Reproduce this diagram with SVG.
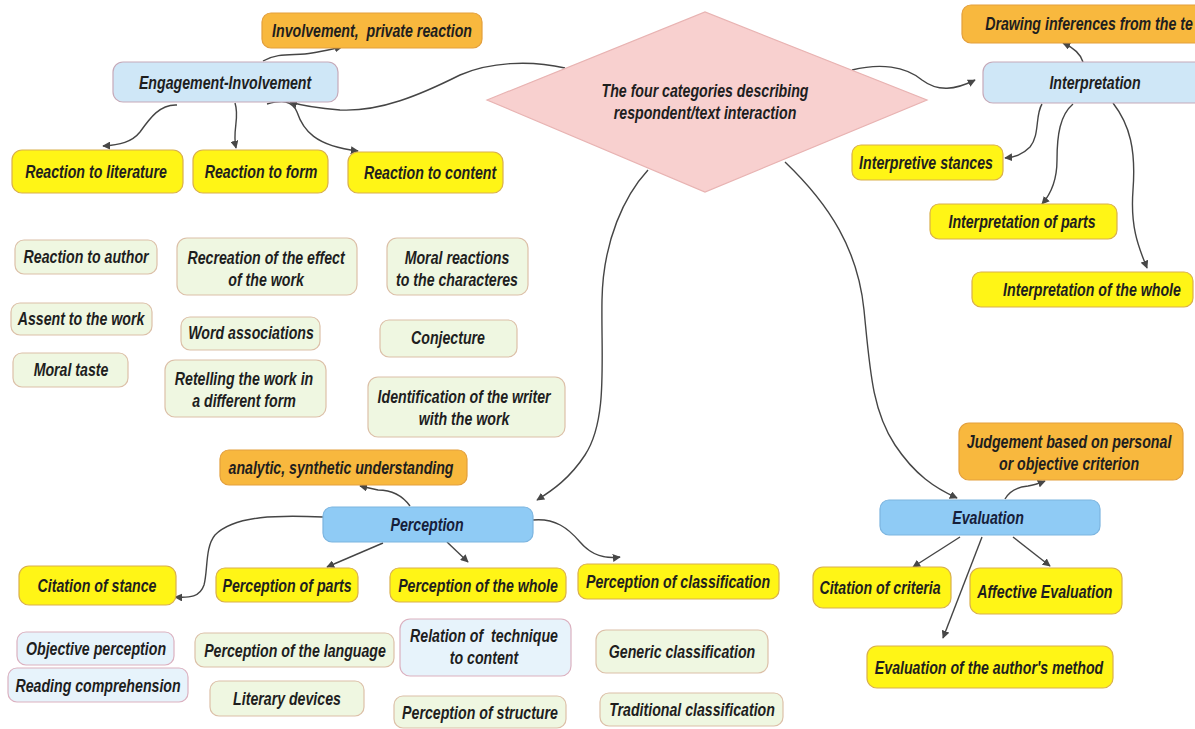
<svg xmlns="http://www.w3.org/2000/svg" width="1195" height="729" viewBox="0 0 1195 729">
  <defs>
    <marker id="arrow" viewBox="0 0 10 10" refX="9" refY="5" markerWidth="8" markerHeight="8" markerUnits="userSpaceOnUse" orient="auto">
      <path d="M0,0 L10,5 L0,10 z" fill="#474747"/>
    </marker>
    <style>
      .t { font-family: "Liberation Sans", Arial, sans-serif; font-weight: bold; font-style: italic; font-size: 17.5px; fill: #1e1e1e; text-anchor: middle; white-space: pre; transform-box: fill-box; transform-origin: center; transform: scaleX(0.81); }
      .tb { fill: #16203a; }
      .yellow { fill: #fff516; stroke: #d9b04c; stroke-width: 1.2; }
      .orange { fill: #f8b83e; stroke: #e39f3c; stroke-width: 1.2; }
      .sky { fill: #cfe7f7; stroke: #c6aab9; stroke-width: 1.2; }
      .blue { fill: #8fcbf5; stroke: #7cb5e0; stroke-width: 1.2; }
      .green { fill: #eff7e1; stroke: #dcc0a8; stroke-width: 1.2; }
      .pale { fill: #e7f3fb; stroke: #dbb1c0; stroke-width: 1.2; }
      .diamond { fill: #f8d0cf; stroke: #e8b3b2; stroke-width: 1.2; }
      .link { fill: none; stroke: #454545; stroke-width: 1.4; marker-end: url(#arrow); }
    </style>
  </defs>

  <rect width="1195" height="729" fill="#ffffff"/>

  <!-- connectors -->
  <g id="connectors">
    <path class="link" d="M263,61 C278,52 296,56 312,53 C325,51 332,49 342,47"/>
    <path class="link" d="M565,68 C530,60 490,62 460,75 C420,95 380,112 340,110 C315,108 300,105 290,102"/>
    <path class="link" d="M267,104 C282,100 292,100 297,112 C303,130 315,146 358,151"/>
    <path class="link" d="M177,105 C160,104 150,118 140,132 C132,142 120,145 103,146"/>
    <path class="link" d="M235,103 C240,118 232,130 236,148"/>
    <path class="link" d="M852,70 C880,63 905,66 922,80 C938,92 955,90 975,80"/>
    <path class="link" d="M1083,62 C1080,52 1072,47 1063,43"/>
    <path class="link" d="M1042,104 C1035,115 1040,135 1030,147 C1022,155 1015,157 1005,158"/>
    <path class="link" d="M1073,104 C1060,115 1057,135 1057,160 C1057,180 1050,195 1042,204"/>
    <path class="link" d="M1113,103 C1130,125 1136,150 1133,190 C1130,230 1140,250 1147,268"/>
    <path class="link" d="M648,170 C625,195 603,240 602,300 C601,360 608,420 585,455 C570,478 553,490 537,500"/>
    <path class="link" d="M785,162 C830,205 858,250 864,310 C870,370 872,410 895,445 C915,475 935,488 957,498"/>
    <path class="link" d="M1005,499 C1010,490 1018,487 1028,486 C1035,485 1040,483 1045,481"/>
    <path class="link" d="M960,537 L913,567"/>
    <path class="link" d="M1013,537 L1050,566"/>
    <path class="link" d="M982,537 L943,638"/>
    <path class="link" d="M410,506 C402,495 390,490 378,490 L360,486"/>
    <path class="link" d="M323,517 C280,515 235,515 215,535 C205,547 208,570 204,585 C200,597 190,598 175,597"/>
    <path class="link" d="M383,543 L327,567"/>
    <path class="link" d="M447,542 L468,562"/>
    <path class="link" d="M533,520 C555,518 568,528 580,542 C592,556 605,559 620,557"/>
  </g>

  <!-- central topic -->
  <g id="topic">
    <polygon class="diamond" points="487,100 705,12 927,100 705,192"/>
    <text class="t" x="705" y="97">The four categories describing<tspan x="705" dy="22">respondent/text interaction</tspan></text>
  </g>

  <!-- engagement / involvement branch -->
  <g id="involvement-private">
    <rect class="orange" x="262" y="13" width="220" height="35" rx="9"/>
    <text class="t" x="372" y="37" xml:space="preserve">Involvement,  private reaction</text>
  </g>
  <g id="engagement">
    <rect class="sky" x="113" y="62" width="225" height="40" rx="10"/>
    <text class="t" x="225" y="89">Engagement-Involvement</text>
  </g>
  <g id="reaction-literature">
    <rect class="yellow" x="12" y="150" width="171" height="43" rx="10"/>
    <text class="t" x="96" y="178">Reaction to literature</text>
  </g>
  <g id="reaction-form">
    <rect class="yellow" x="193" y="150" width="135" height="43" rx="10"/>
    <text class="t" x="261" y="178">Reaction to form</text>
  </g>
  <g id="reaction-content">
    <rect class="yellow" x="348" y="152" width="155" height="41" rx="10"/>
    <text class="t" x="430" y="179">Reaction to content</text>
  </g>
  <g id="reaction-author">
    <rect class="green" x="15" y="240" width="142" height="34" rx="9"/>
    <text class="t" x="86" y="263">Reaction to author</text>
  </g>
  <g id="recreation">
    <rect class="green" x="177" y="238" width="180" height="57" rx="10"/>
    <text class="t" x="266" y="264">Recreation of the effect<tspan x="266" dy="22">of the work</tspan></text>
  </g>
  <g id="moral-reactions">
    <rect class="green" x="387" y="238" width="141" height="57" rx="10"/>
    <text class="t" x="457" y="264">Moral reactions<tspan x="457" dy="22">to the characteres</tspan></text>
  </g>
  <g id="assent">
    <rect class="green" x="11" y="303" width="141" height="32" rx="9"/>
    <text class="t" x="81" y="325">Assent to the work</text>
  </g>
  <g id="word-associations">
    <rect class="green" x="181" y="317" width="139" height="33" rx="9"/>
    <text class="t" x="251" y="339">Word associations</text>
  </g>
  <g id="conjecture">
    <rect class="green" x="380" y="320" width="137" height="37" rx="9"/>
    <text class="t" x="448" y="344">Conjecture</text>
  </g>
  <g id="moral-taste">
    <rect class="green" x="13" y="353" width="115" height="34" rx="9"/>
    <text class="t" x="71" y="376">Moral taste</text>
  </g>
  <g id="retelling">
    <rect class="green" x="165" y="360" width="161" height="57" rx="10"/>
    <text class="t" x="244" y="385">Retelling the work in<tspan x="244" dy="22">a different form</tspan></text>
  </g>
  <g id="identification">
    <rect class="green" x="368" y="377" width="197" height="60" rx="10"/>
    <text class="t" x="464" y="403">Identification of the writer<tspan x="464" dy="22">with the work</tspan></text>
  </g>

  <!-- interpretation branch -->
  <g id="drawing-inferences">
    <rect class="orange" x="962" y="5" width="250" height="38" rx="9"/>
    <text class="t" x="1089" y="30">Drawing inferences from the te</text>
  </g>
  <g id="interpretation">
    <rect class="sky" x="983" y="62" width="230" height="41" rx="10"/>
    <text class="t" x="1095" y="89">Interpretation</text>
  </g>
  <g id="interpretive-stances">
    <rect class="yellow" x="852" y="145" width="151" height="35" rx="9"/>
    <text class="t" x="926" y="169">Interpretive stances</text>
  </g>
  <g id="interpretation-parts">
    <rect class="yellow" x="930" y="204" width="187" height="35" rx="9"/>
    <text class="t" x="1022" y="228">Interpretation of parts</text>
  </g>
  <g id="interpretation-whole">
    <rect class="yellow" x="972" y="272" width="221" height="35" rx="9"/>
    <text class="t" x="1092" y="296">Interpretation of the whole</text>
  </g>

  <!-- perception branch -->
  <g id="analytic">
    <rect class="orange" x="220" y="450" width="247" height="35" rx="9"/>
    <text class="t" x="341" y="474">analytic, synthetic understanding</text>
  </g>
  <g id="perception">
    <rect class="blue" x="323" y="507" width="210" height="35" rx="9"/>
    <text class="t tb" x="427" y="531">Perception</text>
  </g>
  <g id="citation-stance">
    <rect class="yellow" x="19" y="566" width="157" height="39" rx="10"/>
    <text class="t" x="97" y="592">Citation of stance</text>
  </g>
  <g id="perception-parts">
    <rect class="yellow" x="216" y="568" width="142" height="34" rx="9"/>
    <text class="t" x="287" y="592">Perception of parts</text>
  </g>
  <g id="perception-whole">
    <rect class="yellow" x="390" y="568" width="176" height="34" rx="9"/>
    <text class="t" x="478" y="592">Perception of the whole</text>
  </g>
  <g id="perception-classification">
    <rect class="yellow" x="578" y="564" width="201" height="35" rx="9"/>
    <text class="t" x="678" y="588">Perception of classification</text>
  </g>
  <g id="objective-perception">
    <rect class="pale" x="17" y="632" width="157" height="33" rx="9"/>
    <text class="t" x="96" y="655">Objective perception</text>
  </g>
  <g id="reading-comprehension">
    <rect class="pale" x="8" y="668" width="180" height="34" rx="9"/>
    <text class="t" x="98" y="692">Reading comprehension</text>
  </g>
  <g id="perception-language">
    <rect class="green" x="195" y="633" width="199" height="34" rx="9"/>
    <text class="t" x="295" y="657">Perception of the language</text>
  </g>
  <g id="literary-devices">
    <rect class="green" x="210" y="681" width="154" height="35" rx="9"/>
    <text class="t" x="287" y="705">Literary devices</text>
  </g>
  <g id="relation-technique">
    <rect class="pale" x="400" y="619" width="171" height="57" rx="10"/>
    <text class="t" x="484" y="642" xml:space="preserve">Relation of  technique<tspan x="484" dy="22">to content</tspan></text>
  </g>
  <g id="perception-structure">
    <rect class="green" x="394" y="696" width="172" height="32" rx="9"/>
    <text class="t" x="480" y="719">Perception of structure</text>
  </g>
  <g id="generic-classification">
    <rect class="green" x="596" y="630" width="172" height="43" rx="10"/>
    <text class="t" x="682" y="658">Generic classification</text>
  </g>
  <g id="traditional-classification">
    <rect class="green" x="600" y="693" width="183" height="33" rx="9"/>
    <text class="t" x="692" y="716">Traditional classification</text>
  </g>

  <!-- evaluation branch -->
  <g id="judgement">
    <rect class="orange" x="959" y="423" width="224" height="57" rx="10"/>
    <text class="t" x="1069" y="448">Judgement based on personal<tspan x="1069" dy="22">or objective criterion</tspan></text>
  </g>
  <g id="evaluation">
    <rect class="blue" x="880" y="500" width="220" height="35" rx="9"/>
    <text class="t tb" x="988" y="524">Evaluation</text>
  </g>
  <g id="citation-criteria">
    <rect class="yellow" x="813" y="567" width="138" height="41" rx="10"/>
    <text class="t" x="880" y="594">Citation of criteria</text>
  </g>
  <g id="affective-evaluation">
    <rect class="yellow" x="970" y="568" width="152" height="46" rx="10"/>
    <text class="t" x="1045" y="598">Affective Evaluation</text>
  </g>
  <g id="author-method">
    <rect class="yellow" x="867" y="646" width="246" height="42" rx="10"/>
    <text class="t" x="989" y="674">Evaluation of the author's method</text>
  </g>
</svg>
